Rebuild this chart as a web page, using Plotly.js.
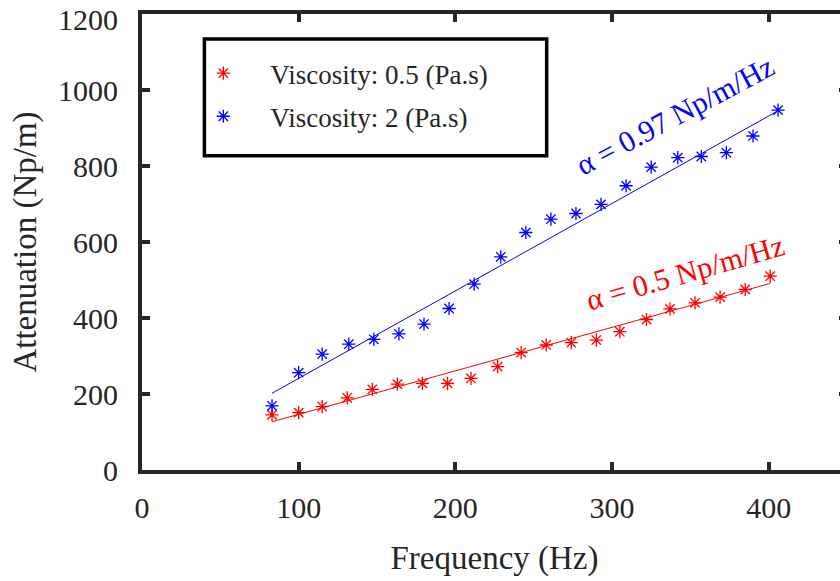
<!DOCTYPE html>
<html>
<head>
<meta charset="utf-8">
<script src="https://cdn.plot.ly/plotly-3.0.1.min.js"></script>
<style>
html,body{margin:0;padding:0;overflow:hidden;background:#fff;width:840px;height:581px;}
#chart{width:850px;height:581px;}
</style>
</head>
<body>
<div id="chart"></div>
<script>
// Viscosity 0.5 Pa.s (red)
const freq05 = [83, 100, 115, 131, 147, 163, 179, 195, 210, 227, 242, 258, 274, 290, 305, 322, 337, 353, 369, 385, 401];
const att05  = [145, 151, 167, 190, 212, 226, 228, 228, 241, 272, 309, 329, 335, 342, 364, 396, 424, 440, 455, 475, 510];
// Viscosity 2 Pa.s (blue)
const freq2 = [83, 100, 115, 132, 148, 164, 180, 196, 212, 229, 245, 261, 277, 293, 309, 325, 342, 357, 373, 390, 406];
const att2  = [169, 256, 305, 331, 344, 358, 384, 425, 489, 561, 625, 660, 675, 699, 748, 797, 822, 825, 835, 879, 947];
// Linear fits
const fit05X = [83, 401];
const fit05Y = [127, 491];
const fit2X  = [83, 405];
const fit2Y  = [202, 943];
const seriesNames = ['Viscosity: 0.5 (Pa.s)', 'Viscosity: 2 (Pa.s)'];
const fitLabels = ['\u03b1 = 0.5 Np/m/Hz', '\u03b1 = 0.97 Np/m/Hz'];
const xTicks = [0, 100, 200, 300, 400];
const yTicks = [0, 200, 400, 600, 800, 1000, 1200];

const FONT = '"Liberation Serif", "Times New Roman", serif';
const AX = '#262626';
const RED = '#ff0000', BLUE = '#0000ff';
const PAD = '\u00a0\u00a0\u00a0\u00a0';

const traces = [
  {x: freq05, y: att05, mode: 'markers', name: PAD + seriesNames[0], legendgroup: 'a',
   marker: {symbol: 'asterisk-open', size: 11, color: RED, line: {color: RED, width: 1.3}}},
  {x: freq2, y: att2, mode: 'markers', name: PAD + seriesNames[1], legendgroup: 'b',
   marker: {symbol: 'asterisk-open', size: 11, color: BLUE, line: {color: BLUE, width: 1.3}}},
  {x: fit05X, y: fit05Y, mode: 'lines', showlegend: false, line: {color: RED, width: 1}, hoverinfo: 'skip'},
  {x: fit2X, y: fit2Y, mode: 'lines', showlegend: false, line: {color: BLUE, width: 1}, hoverinfo: 'skip'}
];

function axisCommon() {
  return {
    showline: true, linewidth: 4, linecolor: AX, mirror: 'ticks',
    ticks: 'inside', ticklen: 8, tickwidth: 4, tickcolor: AX,
    showgrid: false, zeroline: false, ticklabeloverflow: 'allow',
    tickfont: {family: FONT, size: 30, color: AX}
  };
}

const topLabel = yTicks[yTicks.length - 1];
const layout = {
  width: 850, height: 581,
  margin: {l: 142, r: 3, t: 14, b: 111},
  paper_bgcolor: '#fff', plot_bgcolor: '#fff',
  font: {family: FONT, color: AX},
  xaxis: Object.assign(axisCommon(), {
    range: [0, 450], tickvals: xTicks, ticktext: xTicks.map(String),
    ticklabelstandoff: 8,
    title: {text: 'Frequency (Hz)', font: {family: FONT, size: 33, color: AX}, standoff: 24}
  }),
  yaxis: Object.assign(axisCommon(), {
    range: [0, 1200], tickvals: yTicks,
    ticktext: yTicks.map(v => v === topLabel ? '' : String(v)),
    ticklabelstandoff: 14,
    title: {text: 'Attenuation (Np/m)', font: {family: FONT, size: 33, color: AX}, standoff: 12}
  }),
  showlegend: true,
  legend: {
    x: 0.087, y: 0.923, xanchor: 'left', yanchor: 'top',
    bgcolor: 'rgba(0,0,0,0)', borderwidth: 0,
    font: {family: FONT, size: 27, color: AX},
    traceorder: 'grouped', tracegroupgap: 5, itemsizing: 'trace'
  },
  shapes: [
    {type: 'rect', xref: 'paper', yref: 'paper', x0: 0.0885, x1: 0.574, y0: 0.689, y1: 0.945,
     line: {color: '#000', width: 3.5}, fillcolor: 'rgba(0,0,0,0)', layer: 'above'}
  ],
  annotations: [
    {x: -0.031, y: topLabel, xref: 'paper', yref: 'y', text: String(topLabel), showarrow: false,
     xanchor: 'right', yanchor: 'middle', yshift: -5, font: {family: FONT, size: 30, color: AX}},
    {x: 346.6, y: 520, xref: 'x', yref: 'y', text: fitLabels[0], showarrow: false, textangle: -16,
     font: {family: FONT, size: 30, color: RED}},
    {x: 339.8, y: 934, xref: 'x', yref: 'y', text: fitLabels[1], showarrow: false, textangle: -28,
     font: {family: FONT, size: 30, color: BLUE}}
  ]
};

Plotly.newPlot('chart', traces, layout, {staticPlot: true, displayModeBar: false});
</script>
</body>
</html>
